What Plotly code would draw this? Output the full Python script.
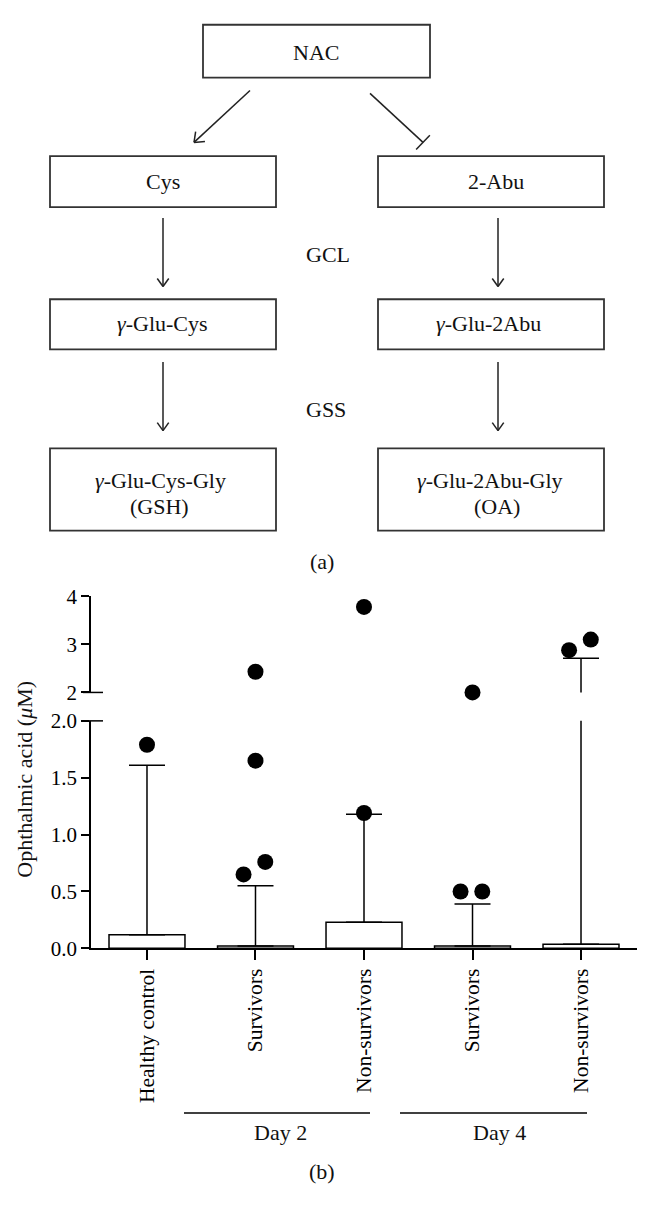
import math
import plotly.graph_objects as go

# ---------------- data ----------------
categories = ["Healthy control", "Survivors", "Non-survivors", "Survivors", "Non-survivors"]
bar_means = [0.12, 0.02, 0.23, 0.02, 0.035]
bar_sd_upper = [1.49, 0.53, 0.95, 0.37, 2.675]
dot_values = [[1.79], [2.43, 1.65, 0.76, 0.65], [3.78, 1.19], [2.0, 0.5, 0.5], [3.10, 2.88]]
dot_jitter = [[0.0], [0.0, 0.0, 0.09, -0.11], [0.0, 0.0], [0.0, -0.11, 0.09], [0.09, -0.11]]
lower_ticks = [0.0, 0.5, 1.0, 1.5, 2.0]
upper_ticks = [2, 3, 4]
group_labels = ["Day 2", "Day 4"]
y_title = "Ophthalmic acid (<i>μ</i>M)"

# ---------------- layout helpers ----------------
W, H = 648, 1228
FONT = "Liberation Serif"


def px(x):
    return x / W


def py(y):
    return 1 - y / H


x_idx = list(range(len(categories)))

fig = go.Figure()

# bars + error bars on both segments (clipped by each subplot)
for ya in ["y", "y2"]:
    fig.add_trace(go.Bar(
        x=x_idx, y=bar_means, width=0.7, xaxis="x", yaxis=ya,
        marker=dict(color="white", line=dict(color="black", width=1.5)),
        error_y=dict(type="data", symmetric=False, array=bar_sd_upper,
                     arrayminus=[0] * len(bar_means), color="black",
                     thickness=1.5, width=18),
        showlegend=False, hoverinfo="skip",
    ))

# dots
lx, lv, ux, uv = [], [], [], []
for i, (vals, jit) in enumerate(zip(dot_values, dot_jitter)):
    for v, j in zip(vals, jit):
        if v < 2:
            lx.append(i + j); lv.append(v)
        else:
            ux.append(i + j); uv.append(v)

fig.add_trace(go.Scatter(x=lx, y=lv, mode="markers", xaxis="x", yaxis="y",
                         marker=dict(size=16, color="black"), cliponaxis=False,
                         showlegend=False))
fig.add_trace(go.Scatter(x=ux, y=uv, mode="markers", xaxis="x", yaxis="y2",
                         marker=dict(size=16, color="black"), cliponaxis=False,
                         showlegend=False))

ax_common = dict(showline=True, linecolor="black", linewidth=1.5, ticks="outside",
                 tickcolor="black", tickwidth=1.5, showgrid=False, zeroline=False,
                 tickfont=dict(family=FONT, size=21, color="black"))

fig.update_layout(
    width=W, height=H, margin=dict(l=0, r=0, t=0, b=0),
    paper_bgcolor="white", plot_bgcolor="white", barmode="overlay",
    xaxis=dict(domain=[px(91), px(637)], range=[-0.516, 4.516], anchor="y",
               tickvals=x_idx, ticktext=categories, tickangle=-90, ticklen=10,
               **{**ax_common, "tickfont": dict(family=FONT, size=21.5, color="black")}),
    yaxis=dict(domain=[py(955), py(723)], range=[0, 2], tickvals=lower_ticks,
               tickformat=".1f", ticklen=8, anchor="x", **ax_common),
    yaxis2=dict(domain=[py(694), py(596)], range=[2, 4], tickvals=upper_ticks,
                ticklen=8, anchor="x", **ax_common),
)

shapes = []
annotations = []


def line(x0, y0, x1, y1, color="#222", width=1.5):
    shapes.append(dict(type="line", xref="paper", yref="paper",
                       x0=px(x0), y0=py(y0), x1=px(x1), y1=py(y1),
                       line=dict(color=color, width=width)))


def rect(x0, y0, x1, y1):
    shapes.append(dict(type="rect", xref="paper", yref="paper",
                       x0=px(x0), y0=py(y0), x1=px(x1), y1=py(y1),
                       line=dict(color="#333", width=1.8), fillcolor="rgba(0,0,0,0)"))


def text(x, y, s, size=22, angle=0):
    annotations.append(dict(x=px(x), y=py(y), xref="paper", yref="paper", text=s,
                            showarrow=False, xanchor="center", yanchor="middle",
                            textangle=angle,
                            font=dict(family=FONT, size=size, color="#111")))


def arrow(x0, y0, x1, y1, head=11, ang=38):
    line(x0, y0, x1, y1)
    a = math.atan2(y0 - y1, x0 - x1)
    for s in (1, -1):
        b = a + s * math.radians(ang)
        line(x1, y1, x1 + head * math.cos(b), y1 + head * math.sin(b))


def inhibit(x0, y0, x1, y1, half=10):
    line(x0, y0, x1, y1)
    a = math.atan2(y1 - y0, x1 - x0) + math.pi / 2
    line(x1 - half * math.cos(a), y1 - half * math.sin(a),
         x1 + half * math.cos(a), y1 + half * math.sin(a))


# ---------------- diagram (a) ----------------
rect(203, 13, 430, 67)
rect(50, 147, 276, 199)
rect(378, 147, 604, 199)
rect(50, 293, 276, 344)
rect(378, 293, 604, 344)
rect(50, 445, 276, 529)
rect(378, 445, 604, 529)

arrow(250, 80, 194, 133)
inhibit(370, 83, 423, 133)
arrow(163, 210, 163, 280, head=10, ang=35)
arrow(498, 210, 498, 280, head=10, ang=35)
arrow(163, 357, 163, 427, head=10, ang=35)
arrow(498, 357, 498, 427, head=10, ang=35)

text(316, 41, "NAC")
text(163, 173, "Cys")
text(496, 173, "2-Abu")
text(328, 247, "GCL")
text(162, 318, "<i>γ</i>-Glu-Cys")
text(488, 318, "<i>γ</i>-Glu-2Abu")
text(326, 405, "GSS")
text(160, 478, "<i>γ</i>-Glu-Cys-Gly")
text(159, 504, "(GSH)")
text(490, 478, "<i>γ</i>-Glu-2Abu-Gly")
text(497, 504, "(OA)")
text(322, 560, "(a)")

# ---------------- chart (b) extras ----------------
# axis break markers
line(83, 694, 103, 694, color="black")
line(83, 723, 103, 723, color="black")
# group brackets
line(184, 1123, 370, 1123, color="black")
line(400, 1123, 587, 1123, color="black")
text(280, 1143, group_labels[0])
text(499, 1143, group_labels[1])
text(322, 1183, "(b)")
text(25, 783, y_title, angle=-90)

fig.update_layout(shapes=shapes, annotations=annotations)
fig.write_html("out.html", config={"displayModeBar": False},
               post_script="document.body.style.margin='0';document.body.style.padding='0';")
